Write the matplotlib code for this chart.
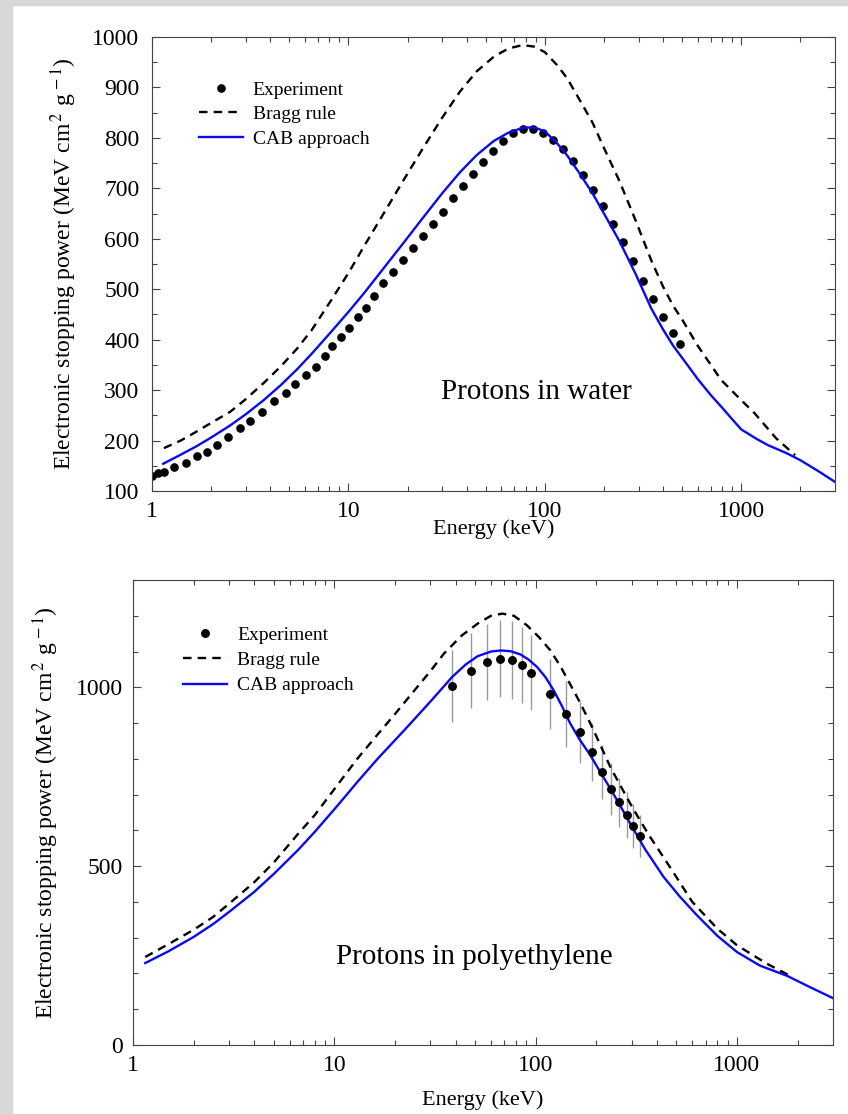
import numpy as np
import matplotlib.pyplot as plt
from matplotlib.patches import Rectangle
from matplotlib.ticker import FixedLocator, NullFormatter, MultipleLocator

plt.rcParams['font.family'] = ['Liberation Serif', 'DejaVu Serif']
plt.rcParams['mathtext.fontset'] = 'stix'

# ---------------------------------------------------------------------------
# Protons in water
# ---------------------------------------------------------------------------
water_exp_E = [1.0, 1.077, 1.15, 1.30, 1.49, 1.69, 1.90, 2.15, 2.43, 2.81,
               3.16, 3.64, 4.19, 4.79, 5.34, 6.08, 6.81, 7.57, 8.29, 9.12,
               10.05, 11.2, 12.3, 13.5, 15.0, 16.9, 19.0, 21.3, 24.0, 27.0,
               30.3, 34.1, 38.3, 43.1, 48.5, 54.5, 61.3, 68.9, 77.5, 87.2,
               98.0, 110, 124, 139, 157, 176, 198, 223, 251, 282,
               317, 356, 401, 451, 490]
water_exp_S = [130, 136, 138, 147, 156, 169, 178, 192, 208, 224,
               239, 257, 278, 295, 312, 329, 346, 367, 387, 405,
               424, 445, 462, 487, 512, 535, 558, 582, 606, 630,
               654, 680, 704, 728, 752, 774, 793, 809, 818, 818,
               810, 796, 778, 755, 727, 697, 665, 630, 594, 556,
               517, 480, 445, 414, 392]

water_bragg_E = [1.15, 1.4, 1.69, 2.0, 2.5, 3.0, 3.7, 4.5, 5.47, 6.5,
                 8.1, 10, 12, 15, 19, 24, 30, 37, 45, 55,
                 65, 77, 88, 100, 115, 130, 150, 175, 200, 240,
                 290, 350, 400, 450, 500, 600, 700, 790, 1000, 1170,
                 1500, 1880]
water_bragg_S = [185, 200, 218, 235, 257, 282, 314, 346, 382, 419,
                 476, 532, 585, 648, 715, 780, 840, 892, 932, 961,
                 977, 984, 981, 970, 945, 918, 876, 830, 780, 714,
                 636, 555, 505, 467, 440, 388, 350, 320, 280, 254,
                 205, 171]

water_cab_E = [1.14, 1.4, 1.69, 2.0, 2.5, 3.0, 3.7, 4.5, 5.47, 6.5,
               8.1, 10, 12, 15, 19, 24, 30, 37, 45, 55,
               65, 77, 88, 100, 115, 130, 150, 175, 200, 240,
               290, 348, 400, 450, 520, 600, 700, 800, 900, 1000,
               1200, 1366, 1700, 2000, 2500, 3000]
water_cab_S = [154, 172, 189, 206, 230, 252, 280, 309, 341, 372,
               414, 455, 492, 540, 591, 642, 690, 732, 766, 794,
               810, 820, 821, 813, 790, 765, 730, 690, 650, 595,
               530, 462, 420, 388, 355, 322, 290, 265, 242, 222,
               203, 191, 175, 161, 138, 118]

# ---------------------------------------------------------------------------
# Protons in polyethylene
# ---------------------------------------------------------------------------
poly_exp_E = [38.5, 47.8, 57.4, 66.8, 76.3, 85.5, 94.8, 118.5, 141.9, 165.3,
              189.5, 213.9, 237.8, 260.6, 283.5, 305.9, 331]
poly_exp_S = [1003, 1046, 1071, 1080, 1076, 1062, 1041, 982, 925, 874,
              819, 763, 716, 678, 642, 613, 584]
poly_exp_err = [100, 105, 107, 108, 108, 106, 104, 98, 93, 87,
                82, 76, 72, 68, 64, 61, 58]

poly_bragg_E = [1.15, 1.5, 2, 2.5, 3, 4, 5, 6.6, 8, 10.4,
                13, 16.4, 20, 23.9, 30, 35, 43, 51.5, 60, 68.3,
                78, 90.7, 104, 118.5, 133, 148, 167, 187, 210, 235,
                265, 295, 330, 370, 420, 474, 600, 800, 1000, 1400,
                1800]
poly_bragg_S = [246, 282, 322, 358, 395, 455, 510, 590, 643, 728,
                800, 868, 925, 978, 1045, 1094, 1145, 1178, 1200, 1206,
                1200, 1173, 1140, 1103, 1058, 1010, 955, 899, 838, 777,
                723, 675, 628, 582, 535, 490, 400, 325, 279, 228,
                196]

poly_cab_E = [1.15, 1.5, 2, 2.5, 3, 4, 5, 6.6, 8, 10.4,
              13, 16.4, 20, 23.9, 30, 38.5, 45, 51.5, 60, 66.8,
              75, 84, 92, 101.6, 112, 122.8, 135, 148.5, 165, 187,
              210, 235, 265, 295, 350, 432, 520, 632, 800, 1000,
              1300, 1780, 2300, 3000]
poly_cab_S = [229, 262, 302, 338, 372, 428, 478, 545, 596, 670,
              735, 800, 852, 899, 960, 1029, 1064, 1087, 1100, 1103,
              1101, 1092, 1078, 1057, 1028, 992, 948, 899, 855, 810,
              762, 717, 666, 619, 547, 470, 415, 363, 305, 260,
              222, 193, 162, 131]

BLUE = '#0a0af0'


def style_axes(ax, ymajor, yminor, ypad, xlabelpad):
    ax.set_xscale('log')
    ax.set_xlim(1, 3000)
    ax.xaxis.set_major_locator(FixedLocator([1, 10, 100, 1000]))
    ax.xaxis.set_minor_locator(FixedLocator(
        [m * 10 ** d for d in range(4) for m in range(2, 10) if m * 10 ** d < 3000]))
    ax.xaxis.set_minor_formatter(NullFormatter())
    ax.set_xticklabels(['1', '10', '100', '1000'])
    ax.yaxis.set_major_locator(MultipleLocator(ymajor))
    ax.yaxis.set_minor_locator(MultipleLocator(yminor))
    ax.tick_params(which='both', direction='in', top=True, right=True,
                   width=0.8, color='#444444', labelsize=17)
    ax.tick_params(which='major', length=6)
    ax.tick_params(which='minor', length=3.3)
    ax.tick_params(axis='x', pad=7)
    ax.tick_params(axis='y', pad=ypad)
    for s in ax.spines.values():
        s.set_linewidth(0.8)
        s.set_color('#444444')
    ax.set_xlabel('Energy (keV)', fontsize=16, labelpad=xlabelpad)
    ax.set_ylabel(r'Electronic stopping power (MeV cm$^{\,2}$ g$^{\,-1}$)', fontsize=17)


fig = plt.figure(figsize=(8.48, 11.14), dpi=100)

# textured frame strips on the left and top edges
fig.patches.append(Rectangle((0, 0), 12 / 848, 1, transform=fig.transFigure,
                             color='#d8d8d8', zorder=-10))
fig.patches.append(Rectangle((0, 1 - 5 / 1114), 1, 5 / 1114, transform=fig.transFigure,
                             color='#d8d8d8', zorder=-10))

ax1 = fig.add_axes([152 / 848, 1 - 491 / 1114, 683 / 848, 454 / 1114])
ax1.plot(water_exp_E, water_exp_S, 'o', color='black', ms=5.2, label='Experiment')
ax1.plot(water_bragg_E, water_bragg_S, '--', color='black', lw=1.7,
         dashes=(3.6, 2.6), label='Bragg rule')
ax1.plot(water_cab_E, water_cab_S, '-', color=BLUE, lw=1.7, label='CAB approach')
ax1.set_ylim(100, 1000)
style_axes(ax1, 100, 50, 9, -1.5)
ax1.yaxis.set_label_coords(-0.107, 0.5)
ax1.text(0.563, 0.218, 'Protons in water', transform=ax1.transAxes,
         fontsize=21, ha='center', va='center')
ax1.legend(loc='upper left', bbox_to_anchor=(0.0688, 0.903), frameon=False,
           fontsize=14, handlelength=2.27, handletextpad=0.5, labelspacing=0.36,
           borderpad=0, borderaxespad=0, numpoints=1)

ax2 = fig.add_axes([133 / 848, 1 - 1045 / 1114, 700 / 848, 465 / 1114])
ax2.errorbar(poly_exp_E, poly_exp_S, yerr=poly_exp_err, fmt='none',
             ecolor='#9a9a9a', elinewidth=1.0, capsize=0, zorder=1)
ax2.plot(poly_exp_E, poly_exp_S, 'o', color='black', ms=5.4, label='Experiment', zorder=3)
ax2.plot(poly_bragg_E, poly_bragg_S, '--', color='black', lw=1.7,
         dashes=(3.6, 2.6), label='Bragg rule', zorder=2)
ax2.plot(poly_cab_E, poly_cab_S, '-', color=BLUE, lw=1.7, label='CAB approach', zorder=2)
ax2.set_ylim(0, 1300)
style_axes(ax2, 500, 100, 7, 10.5)
ax2.yaxis.set_label_coords(-0.103, 0.5)
ax2.text(0.487, 0.19, 'Protons in polyethylene', transform=ax2.transAxes,
         fontsize=21, ha='center', va='center')
ax2.legend(loc='upper left', bbox_to_anchor=(0.0716, 0.901), frameon=False,
           fontsize=14, handlelength=2.27, handletextpad=0.5, labelspacing=0.4,
           borderpad=0, borderaxespad=0, numpoints=1)

fig.savefig('out.png', dpi=100)
